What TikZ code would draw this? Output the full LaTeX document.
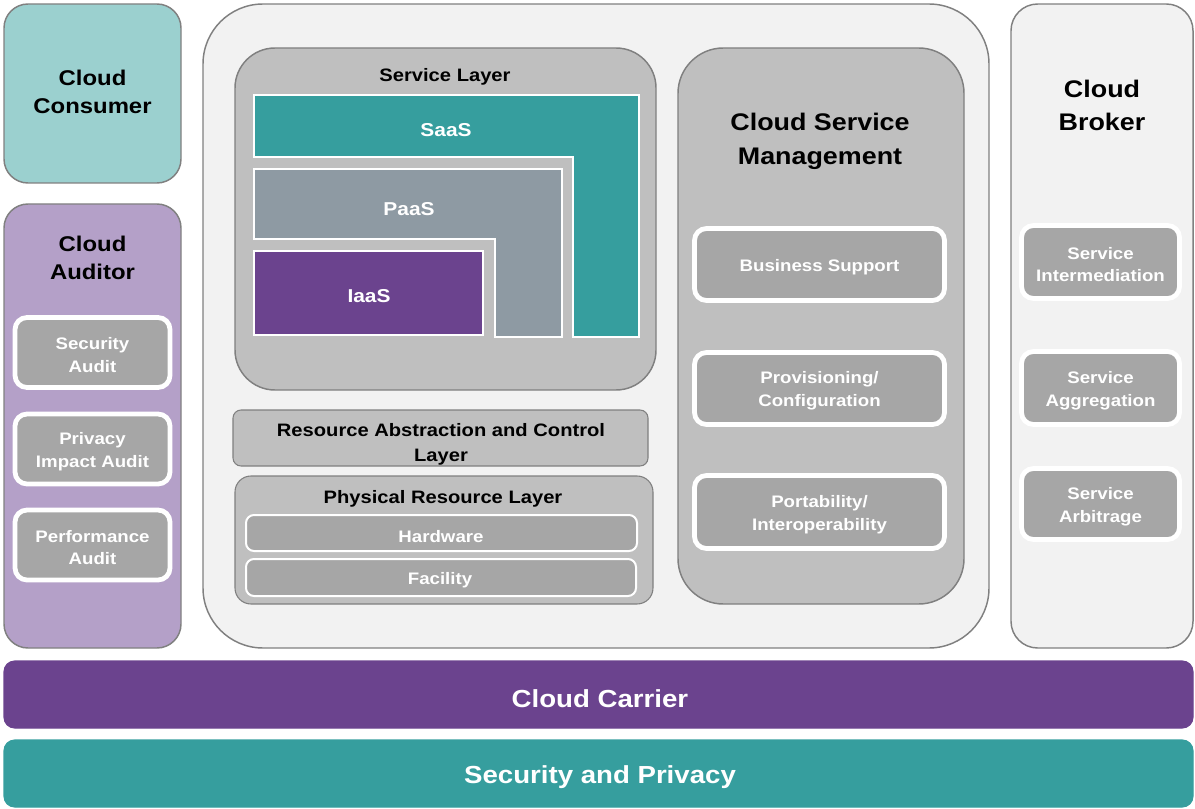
\documentclass[tikz,border=0pt]{standalone}
\usepackage{fontspec}
\setmainfont{Liberation Sans}[FakeStretch=1.12]

\definecolor{tealC}{HTML}{369E9E}
\definecolor{purpC}{HTML}{6B438E}
\definecolor{consC}{HTML}{9BD0CF}
\definecolor{audC}{HTML}{B4A0C8}
\definecolor{paasC}{HTML}{8E9AA3}
\definecolor{paleC}{HTML}{F2F2F2}
\definecolor{midC}{HTML}{BFBFBF}
\definecolor{darkC}{HTML}{A6A6A6}
\definecolor{edgeC}{HTML}{808080}

\tikzset{
  panel/.style={draw=edgeC, line width=1.1pt},
  subbox/.style={fill=darkC, draw=white, line width=3.6pt, rounded corners=9pt},
  hwbox/.style={fill=darkC, draw=white, line width=1.5pt, rounded corners=6pt},
  tierbox/.style={draw=white, line width=1.5pt},
  band/.style={line width=0.8pt, rounded corners=8pt},
  headA/.style={font=\bfseries\fontsize{16}{21}\selectfont, align=center},
  headB/.style={font=\bfseries\fontsize{18}{25}\selectfont, align=center},
  layertxt/.style={font=\bfseries\fontsize{13.5}{19}\selectfont, align=center},
  tiertxt/.style={text=white, font=\bfseries\fontsize{14}{18}\selectfont},
  subtxt/.style={text=white, font=\bfseries\fontsize{12.5}{17}\selectfont, align=center},
  bandtxt/.style={text=white, font=\bfseries\fontsize{18.5}{22}\selectfont}
}

\begin{document}
\begin{tikzpicture}[x=0.75pt,y=-0.75pt,every node/.append style={yshift=-1.8pt}]
\useasboundingbox (0,0) rectangle (1195,809);

% consumer and auditor
\draw[panel, fill=consC, rounded corners=18pt] (4,4) rectangle (181,183);
\node[headA] (consumer) at (92.5,89) {Cloud\\Consumer};

\draw[panel, fill=audC, rounded corners=18pt] (4,204) rectangle (181,648);
\node[headA] (auditor) at (92.5,255) {Cloud\\Auditor};

\draw[subbox] (15,317.5) rectangle (170,387.5);
\node[subtxt] (secaudit) at (92.5,352.5) {Security\\Audit};
\draw[subbox] (15,414) rectangle (170,484);
\node[subtxt] (privaudit) at (92.5,449) {Privacy\\Impact Audit};
\draw[subbox] (15,510) rectangle (170,580);
\node[subtxt] (perfaudit) at (92.5,545) {Performance\\Audit};

% provider
\draw[panel, fill=paleC, rounded corners=45pt] (203,4) rectangle (989,648);

\draw[panel, fill=midC, rounded corners=30pt] (235,48) rectangle (656,390);
\node[layertxt] (servlayer) at (445,74) {Service Layer};

\draw[tierbox, fill=tealC] (254,95) -- (639,95) -- (639,337) -- (573,337) -- (573,157) -- (254,157) -- cycle;
\node[tiertxt] (saas) at (446,128) {SaaS};
\draw[tierbox, fill=paasC] (254,169) -- (562,169) -- (562,337) -- (495,337) -- (495,239) -- (254,239) -- cycle;
\node[tiertxt] (paas) at (409,207) {PaaS};
\draw[tierbox, fill=purpC] (254,251) rectangle (483,335);
\node[tiertxt] (iaas) at (369,294) {IaaS};

\draw[panel, line width=0.8pt, fill=midC, rounded corners=6pt] (233,410) rectangle (648,466);
\node[layertxt] (abstraction) at (441,442) {Resource Abstraction and Control\\Layer};

\draw[panel, line width=0.8pt, fill=midC, rounded corners=12pt] (235,476) rectangle (653,604);
\node[layertxt] (physical) at (443,496) {Physical Resource Layer};
\draw[hwbox] (246,515) rectangle (637,551);
\node[subtxt] (hardware) at (441,534) {Hardware};
\draw[hwbox] (246,559) rectangle (636,596);
\node[subtxt] (facility) at (440,578) {Facility};

\draw[panel, fill=midC, rounded corners=34pt] (678,48) rectangle (964,604);
\node[headB] (csm) at (820,139) {Cloud Service\\Management};

\draw[subbox] (694.5,228.5) rectangle (944.5,300.5);
\node[subtxt] (business) at (819.5,265) {Business Support};
\draw[subbox] (694.5,352.5) rectangle (944.5,424.5);
\node[subtxt] (provisioning) at (819.5,388.5) {Provisioning/\\Configuration};
\draw[subbox] (694.5,475.5) rectangle (944.5,548.5);
\node[subtxt] (portability) at (819.5,512) {Portability/\\Interoperability};

% broker
\draw[panel, fill=paleC, rounded corners=20pt] (1011,4) rectangle (1193,648);
\node[headB] (broker) at (1102,103) {Cloud\\Broker};

\draw[subbox] (1021.5,225.5) rectangle (1179.5,298.5);
\node[subtxt] (intermed) at (1100.5,262) {Service\\Intermediation};
\draw[subbox] (1021.5,351.5) rectangle (1179.5,424.5);
\node[subtxt] (aggreg) at (1100.5,388) {Service\\Aggregation};
\draw[subbox] (1021.5,468.5) rectangle (1179.5,539.5);
\node[subtxt] (arbitr) at (1100.5,504) {Service\\Arbitrage};

% bottom bands
\draw[band, fill=purpC, draw=purpC] (4,661) rectangle (1193,728);
\node[bandtxt] (carrier) at (600,696) {Cloud Carrier};
\draw[band, fill=tealC, draw=tealC] (4,740) rectangle (1193,807);
\node[bandtxt] (secpriv) at (600,775) {Security and Privacy};
\end{tikzpicture}
\end{document}
